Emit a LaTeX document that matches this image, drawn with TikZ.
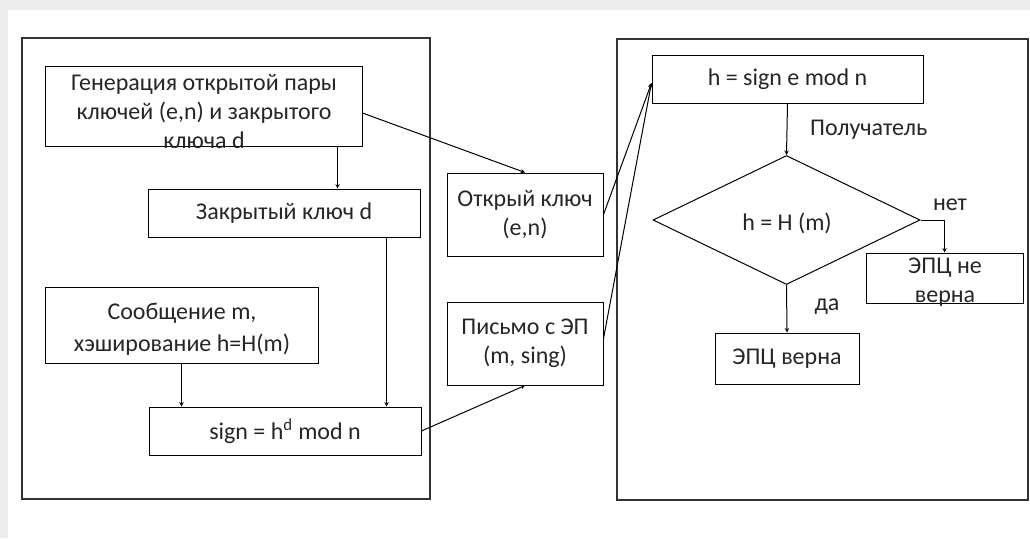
\documentclass[tikz,border=0pt]{standalone}
\usepackage{fontspec}
\setmainfont{Carlito}
\usetikzlibrary{shapes.geometric}

\begin{document}
\begin{tikzpicture}[x=1pt, y=-1pt, font=\fontsize{24}{29}\selectfont,
		box/.style={draw, line width=1pt, rectangle, inner sep=0pt, align=center, text=black!85},
		lbl/.style={inner sep=0pt, text=black!85},
		arr/.style={-stealth, line width=1pt}]
		\useasboundingbox (0,0) rectangle (1030,538);
		% background
		\fill[black!7] (0,0) rectangle (1030,538);
		\fill[white] (8,10) rectangle (1030,538);
		% panels
		\draw[line width=1.3pt, black!80] (22,38) rectangle (430,499);
		\draw[line width=1.3pt, black!80] (617,39) rectangle (1028,500);

		% sender
		\node[box, minimum width=317, minimum height=80] (gen) at (203.5,106) {};
		\node[lbl, align=center] (genT) at (204,111) {Генерация открытой пары\\ключей (e,n) и закрытого\\ключа d};
		\node[box, minimum width=272, minimum height=48] (priv) at (284,213) {Закрытый ключ d};
		\node[box, minimum width=273, minimum height=76] (msg) at (181.5,325) {};
		\node[lbl, align=center] (msgT) at (182,329) {Сообщение m,\\[3pt]хэширование h=H(m)};
		\node[box, minimum width=272, minimum height=48] (sign) at (285,431) {sign = h\textsuperscript{d} mod n};

		% middle
		\node[box, minimum width=156, minimum height=83] (pub) at (525,214.5) {Открый ключ\\(e,n)};
		\node[box, minimum width=156, minimum height=83] (letter) at (525,343.5) {Письмо с ЭП\\(m, sing)};

		% receiver
		\node[box, minimum width=271, minimum height=48] (check) at (787.5,79) {h = sign e mod n};
		\node[box, diamond, minimum width=267, minimum height=129] (cond) at (786.5,220) {};
		\node[lbl] (condT) at (787,223) {h = H (m)};
		\node[box, minimum width=157, minimum height=50] (bad) at (944.5,278) {};
		\node[lbl, align=center, text depth=0pt] (badT) at (945,280) {ЭПЦ не\\верна};
		\node[box, minimum width=144, minimum height=51] (good) at (787,358.5) {ЭПЦ верна};

		\node[lbl, anchor=west] (recv) at (810,130) {Получатель};
		\node[lbl] (no) at (950,205) {нет};
		\node[lbl] (yes) at (827,307) {да};

		% arrows
		\draw[arr] ([xshift=-25pt]gen.south east) -- ([xshift=-25pt]gen.south east |- priv.north);
		\draw[arr] (msg.south) -- (msg.south |- sign.north);
		\draw[arr] ([xshift=-34pt]priv.south east) -- ([xshift=-34pt]priv.south east |- sign.north);
		\draw[arr] ([yshift=-7pt]gen.east) -- (pub.north);
		\draw[arr] (sign.east) -- (letter.south);
		\draw[arr] (pub.east) -- ([yshift=-4pt]check.west);
		\draw[arr] ([yshift=5pt]letter.east) -- ([yshift=-4pt]check.west);
		\draw[arr] (check.south) -- (cond.north);
		\draw[arr] (cond.east) -| (bad.north);
		\draw[arr] (cond.south) -- (good.north);
	\end{tikzpicture}
\end{document}
